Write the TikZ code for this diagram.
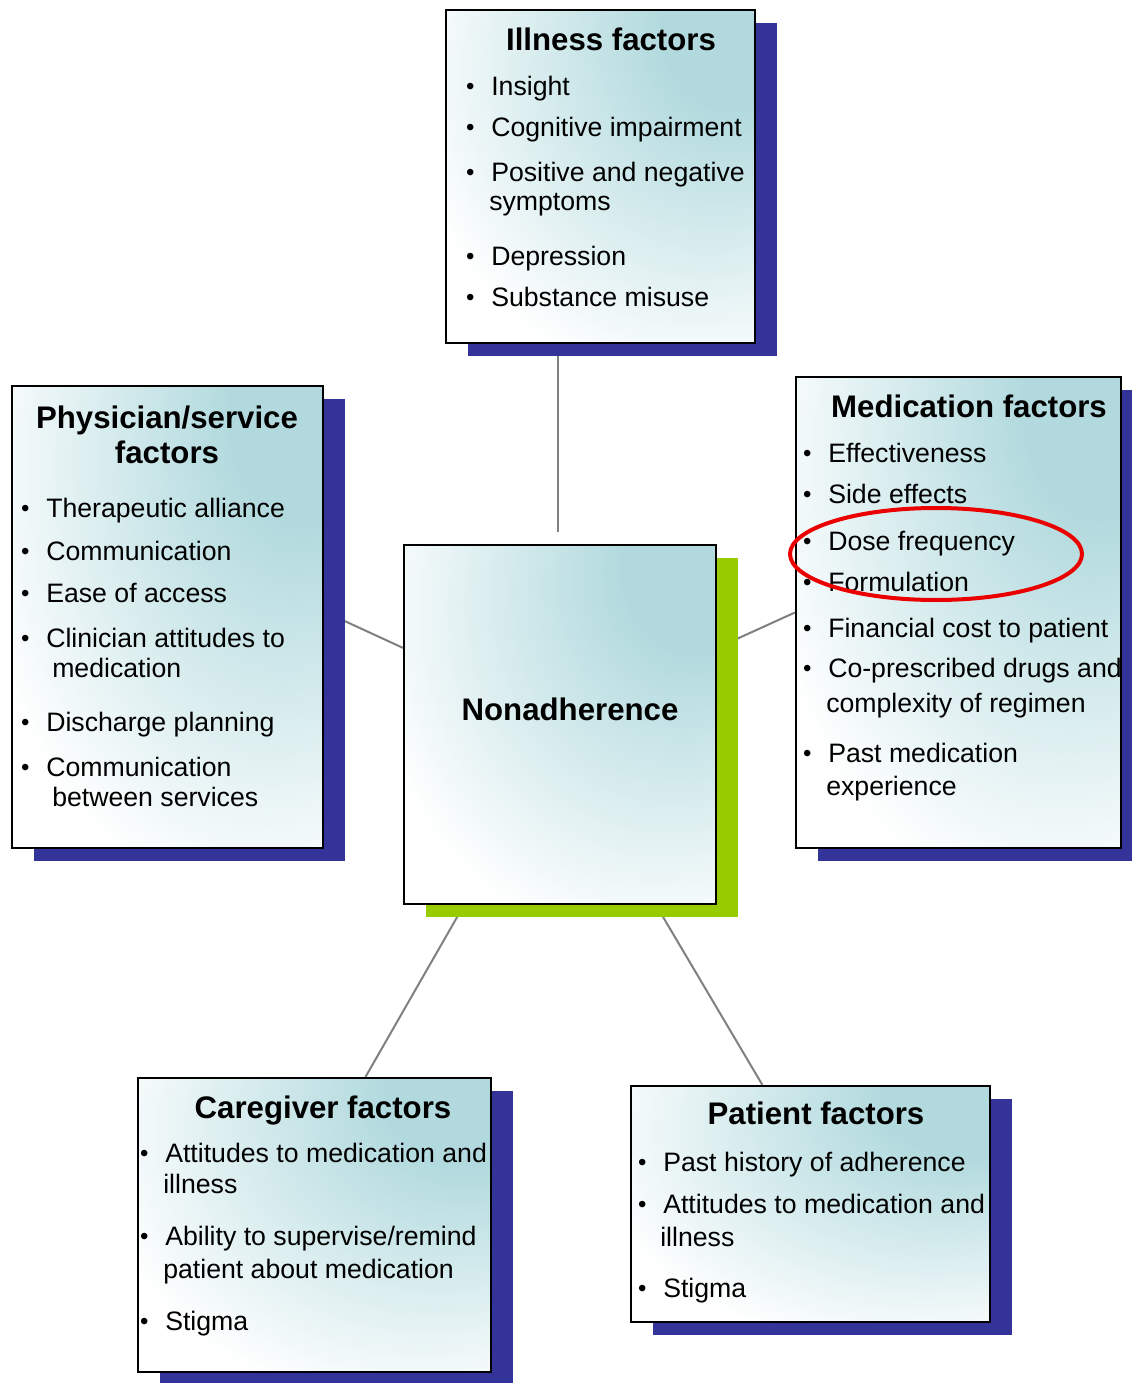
\documentclass[tikz,border=0pt]{standalone}
\usepackage{fontspec}
\setmainfont{Liberation Sans}
\usepackage{tikz}
\usetikzlibrary{fit, shadows, backgrounds}

\definecolor{ShadowBlue}{RGB}{51,51,153}
\definecolor{LeafGreen}{RGB}{153,204,0}
\definecolor{PaleTeal}{RGB}{178,218,222}
\definecolor{LinkGray}{RGB}{128,128,128}
\definecolor{MarkRed}{RGB}{235,0,0}

\pgfdeclareradialshading{cornerglow}{\pgfpoint{25bp}{25bp}}{color(0bp)=(PaleTeal); color(12bp)=(PaleTeal); color(45bp)=(white); color(100bp)=(white)}

\newcommand{\bul}{\llap{\raisebox{0.75pt}{\fontsize{18}{18}\selectfont\textbullet}\hspace{12.6pt}}}

\tikzset{
  factorbox/.style={draw=black, line width=1.6pt, shade, shading=cornerglow, inner sep=0pt,
    general shadow={fill=ShadowBlue, shadow xshift=16.5pt, shadow yshift=-9.75pt}},
  corebox/.style={factorbox, general shadow={fill=LeafGreen, shadow xshift=16.5pt, shadow yshift=-9.75pt}},
  boxtitle/.style={anchor=base, inner sep=0pt, font=\bfseries\fontsize{23.4}{28}\selectfont},
  boxitem/.style={anchor=base west, inner sep=0pt, font=\fontsize{20}{24}\selectfont},
  link/.style={draw=LinkGray, line width=1.5pt},
  highlight/.style={draw=MarkRed, line width=3pt}
}

\begin{document}
\begin{tikzpicture}[x=0.75pt, y=-0.75pt]
        \useasboundingbox (0,0) rectangle (1131,1383);

        % Boxes
        \node[factorbox, fit={(446,10) (755,343)}] (ill) {};
        \node[factorbox, fit={(12,386) (323,848)}] (phy) {};
        \node[factorbox, fit={(796,377) (1121,848)}] (med) {};
        \node[corebox, fit={(404,545) (716,904)}] (ctr) {};
        \node[factorbox, fit={(138,1078) (491,1372)}] (care) {};
        \node[factorbox, fit={(631,1086) (990,1322)}] (pat) {};

        % Illness factors
        \node[boxtitle] (illT) at (611,51) {Illness factors};
        \node[boxitem] (ill1) at (491,96) {\bul Insight};
        \node[boxitem] (ill2) at (491,137) {\bul Cognitive impairment};
        \node[boxitem] (ill3) at (491,182) {\bul Positive and negative};
        \node[boxitem] (ill3b) at (489,211) {symptoms};
        \node[boxitem] (ill4) at (491,266) {\bul Depression};
        \node[boxitem] (ill5) at (491,307) {\bul Substance misuse};

        % Physician/service factors
        \node[boxtitle] (phyT) at (167,428) {Physician/service};
        \node[boxtitle] (phyTb) at (167,463) {factors};
        \node[boxitem] (phy1) at (46,517) {\bul Therapeutic alliance};
        \node[boxitem] (phy2) at (46,560) {\bul Communication};
        \node[boxitem] (phy3) at (46,602) {\bul Ease of access};
        \node[boxitem] (phy4) at (46,647) {\bul Clinician attitudes to};
        \node[boxitem] (phy4b) at (52,677) {medication};
        \node[boxitem] (phy5) at (46,731) {\bul Discharge planning};
        \node[boxitem] (phy6) at (46,776) {\bul Communication};
        \node[boxitem] (phy6b) at (52,806) {between services};

        % Medication factors
        \node[boxtitle] (medT) at (969,417) {Medication factors};
        \node[boxitem] (med1) at (828,462) {\bul Effectiveness};
        \node[boxitem] (med2) at (828,503) {\bul Side effects};
        \node[boxitem] (med3) at (828,550) {\bul Dose frequency};
        \node[boxitem] (med4) at (828,591) {\bul Formulation};
        \node[boxitem] (med5) at (828,637) {\bul Financial cost to patient};
        \node[boxitem] (med6) at (828,677) {\bul Co-prescribed drugs and};
        \node[boxitem] (med6b) at (826,712) {complexity of regimen};
        \node[boxitem] (med7) at (828,762) {\bul Past medication};
        \node[boxitem] (med7b) at (826,795) {experience};

        % Centre
        \node[boxtitle] (ctrT) at (570,720) {Nonadherence};

        % Caregiver factors
        \node[boxtitle] (careT) at (323,1118) {Caregiver factors};
        \node[boxitem] (care1) at (165,1162) {\bul Attitudes to medication and};
        \node[boxitem] (care1b) at (163,1193) {illness};
        \node[boxitem] (care2) at (165,1245) {\bul Ability to supervise/remind};
        \node[boxitem] (care2b) at (163,1278) {patient about medication};
        \node[boxitem] (care3) at (165,1330) {\bul Stigma};

        % Patient factors
        \node[boxtitle] (patT) at (816,1124) {Patient factors};
        \node[boxitem] (pat1) at (663,1171) {\bul Past history of adherence};
        \node[boxitem] (pat2) at (663,1213) {\bul Attitudes to medication and};
        \node[boxitem] (pat2b) at (660,1246) {illness};
        \node[boxitem] (pat3) at (663,1297) {\bul Stigma};

        % Links
        \coordinate (ctrtop) at (558,532);
        \begin{scope}[on background layer]
        \draw[link] (ill.south -| ctrtop) -- (ctrtop);
        \draw[link] (phy.2) -- (ctr.154);
        \draw[link] (med.west) -- (ctr.26.4);
        \draw[link] (ctr.242) -- (care.71);
        \draw[link] (ctr.298.5) -- (pat.112);
        \end{scope}

        % Highlight
        \draw[highlight] (936,554) ellipse [x radius=146, y radius=46];
    \end{tikzpicture}
\end{document}
